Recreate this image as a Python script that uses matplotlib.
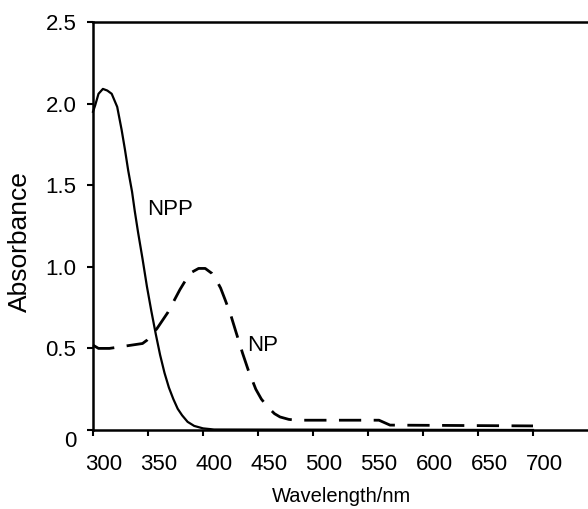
import matplotlib
matplotlib.use('Agg')
import matplotlib.pyplot as plt
import matplotlib.transforms as mtransforms

# ── Data ────────────────────────────────────────────────────────────────────
npp_wl = [300, 302, 305, 309, 313, 317, 322, 326, 329, 332, 335.5, 338, 341,
          345, 349, 353, 357, 361, 365, 369, 373, 377, 381, 386, 392, 400,
          410, 700]
npp_abs = [1.95, 1.99, 2.06, 2.09, 2.08, 2.06, 1.98, 1.84, 1.72, 1.59, 1.46,
           1.34, 1.21, 1.05, 0.88, 0.73, 0.59, 0.46, 0.35, 0.26, 0.19, 0.13,
           0.09, 0.05, 0.025, 0.01, 0.003, 0.0]

np_wl = [300, 305, 315, 325, 335, 345, 349, 358, 368, 379, 388, 396, 402,
         408, 412, 416, 420, 425, 430, 436, 441, 448, 453, 459, 465, 470,
         478, 485, 560, 570, 700]
np_abs = [0.52, 0.50, 0.50, 0.51, 0.52, 0.53, 0.55, 0.62, 0.72, 0.86, 0.96,
          0.99, 0.99, 0.96, 0.92, 0.87, 0.80, 0.71, 0.60, 0.47, 0.37, 0.25,
          0.19, 0.14, 0.10, 0.08, 0.065, 0.06, 0.06, 0.03, 0.025]

x_ticks = [300, 350, 400, 450, 500, 550, 600, 650, 700]
y_ticks = [0, 0.5, 1.0, 1.5, 2.0, 2.5]
y_tick_labels = ['0', '0.5', '1.0', '1.5', '2.0', '2.5']

plt.rcParams['font.family'] = ['Liberation Sans', 'DejaVu Sans']

W, H = 588, 509
fig = plt.figure(figsize=(W / 100, H / 100), dpi=100)
ax = fig.add_axes([93 / W, 79 / H, 495 / W, 408 / H])

ax.plot(npp_wl, npp_abs, color='black', lw=1.6, clip_on=False)
ax.plot(np_wl, np_abs, color='black', lw=2.0, linestyle=(0, (8, 4.5)),
        clip_on=False)

ax.text(349, 1.35, 'NPP', fontsize=16, va='center', ha='left')
ax.text(440, 0.52, 'NP', fontsize=16, va='center', ha='left')

ax.set_xlim(300, 750)
ax.set_ylim(0, 2.5)
ax.set_xticks(x_ticks)
ax.set_yticks(y_ticks)
ax.set_yticklabels(y_tick_labels)

for side in ['left', 'bottom', 'top']:
    ax.spines[side].set_linewidth(1.8)
ax.spines['right'].set_visible(False)

ax.tick_params(direction='out', length=4, width=1.5, labelsize=16, colors='black')
ax.tick_params(axis='x', pad=13)
ax.tick_params(axis='y', pad=8)

# labels in the reference sit a little to the right of their ticks
shift = mtransforms.ScaledTranslation(0.11, 0, fig.dpi_scale_trans)
for lab in ax.get_xticklabels():
    lab.set_transform(lab.get_transform() + shift)
drop = mtransforms.ScaledTranslation(0, -0.09, fig.dpi_scale_trans)
zero_lab = ax.get_yticklabels()[0]
zero_lab.set_transform(zero_lab.get_transform() + drop)

fig.text(20 / W, 1 - 242 / H, 'Absorbance', rotation=90, fontsize=19,
         ha='center', va='center')
fig.text(342 / W, 1 - 497 / H, 'Wavelength/nm', fontsize=14.5,
         ha='center', va='center')

fig.savefig('out.png', dpi=100)
plt.close(fig)
